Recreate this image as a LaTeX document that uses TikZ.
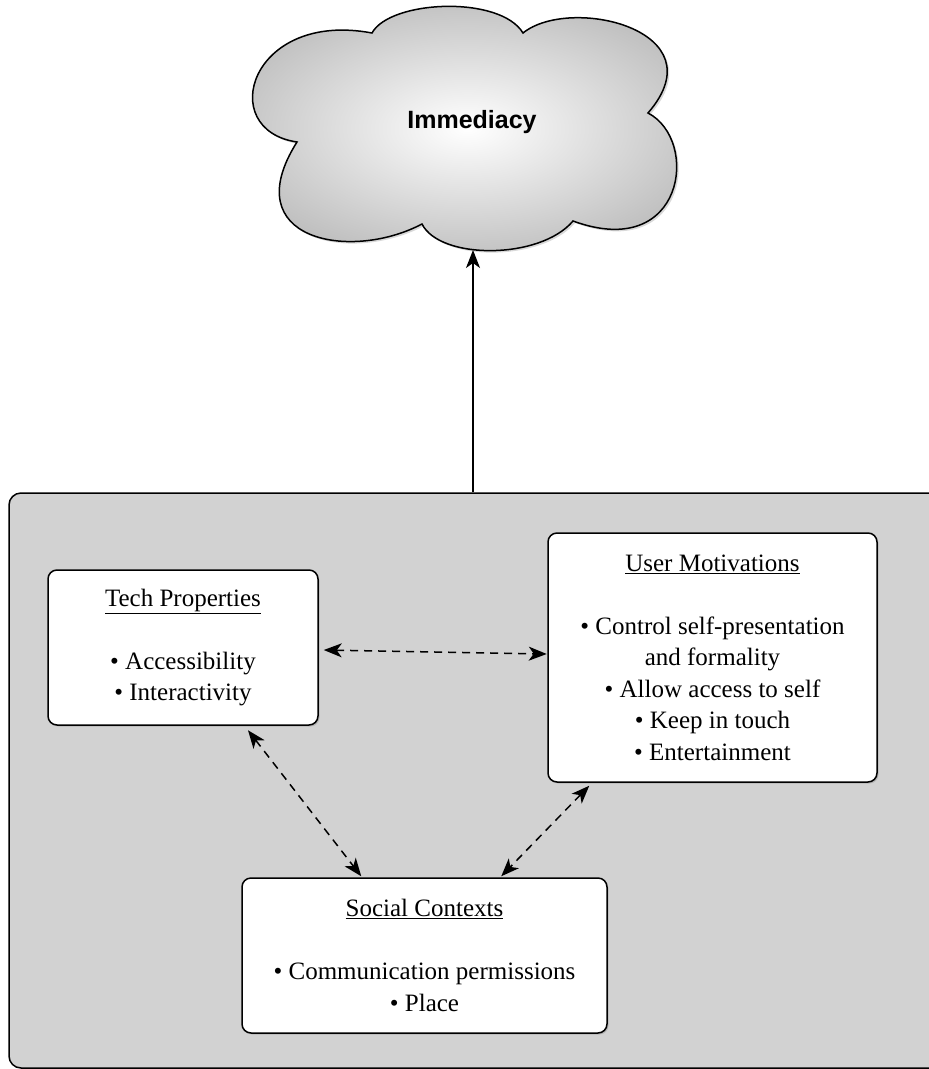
\documentclass[tikz,border=0pt]{standalone}
\usepackage{fontspec}
\setmainfont{Liberation Serif}
\newfontfamily\cloudfont{Liberation Sans}
\usetikzlibrary{arrows.meta,shadows,calc}
\definecolor{panel}{RGB}{210,210,210}
\tikzset{
  box/.style={draw=black, line width=1.5pt, fill=white, rounded corners=9pt,
    align=center, inner sep=0pt,
    font=\fontsize{25}{31.5}\selectfont,
    drop shadow={opacity=0.35, shadow xshift=1.5pt, shadow yshift=-1.5pt}},
  >={Stealth[length=18pt,width=14pt,inset=5pt]},
  dasharrow/.style={line width=1.5pt, dash pattern=on 8pt off 6pt, <->},
  solidarrow/.style={line width=1.5pt, ->},
}
\begin{document}
\begin{tikzpicture}[x=1pt,y=-1pt]
\useasboundingbox (0,0) rectangle (929,1069);
% cloud
\path[draw=black, line width=1.5pt, shading=radial, inner color=white, outer color=gray!50,
  drop shadow={opacity=0.3, shadow xshift=2pt, shadow yshift=-2pt}]
  (297,142) .. controls (215,130) and (250,10) .. (372,33)
  .. controls (390,0) and (500,-5) .. (523,33)
  .. controls (570,-5) and (720,30) .. (648,113)
  .. controls (700,140) and (685,262) .. (573,221)
  .. controls (540,260) and (440,260) .. (422,224)
  .. controls (350,262) and (235,240) .. (297,142) -- cycle;
\node[font=\cloudfont\bfseries\fontsize{25}{30}\selectfont] (cloud) at (472,122) {Immediacy};
\coordinate (cb) at (473,250);
% outer panel
\node[draw=black, line width=1.5pt, fill=panel, rounded corners=12pt,
  minimum width=940pt, minimum height=575pt, inner sep=0pt] (outer) at (479,780.5) {};
% boxes
\node[box, minimum width=270pt, minimum height=155pt] (tech) at (183,647.5)
  {\underline{Tech Properties}\\[31.5pt]• Accessibility\\• Interactivity};
\node[box, minimum width=329pt, minimum height=249pt] (um) at (712.5,657.5)
  {\underline{User Motivations}\\[31.5pt]• Control self-presentation\\and formality\\• Allow access to self\\• Keep in touch\\• Entertainment};
\node[box, minimum width=365pt, minimum height=155pt] (sc) at (424.5,955.5)
  {\underline{Social Contexts}\\[31.5pt]• Communication permissions\\• Place};
% connectors
\draw[solidarrow] (outer.north -| cb) -- (cb);
\draw[dasharrow] ($(tech.east)+(5,2.5)$) -- ($(um.west)+(-0.5,-3.5)$);
\draw[dasharrow] ($(tech.south)+(65,4.5)$) -- ($(sc.north west)+(120,-1)$);
\draw[dasharrow] ($(um.south west)+(42,3)$) -- ($(sc.north west)+(260,-1)$);
\end{tikzpicture}
\end{document}
